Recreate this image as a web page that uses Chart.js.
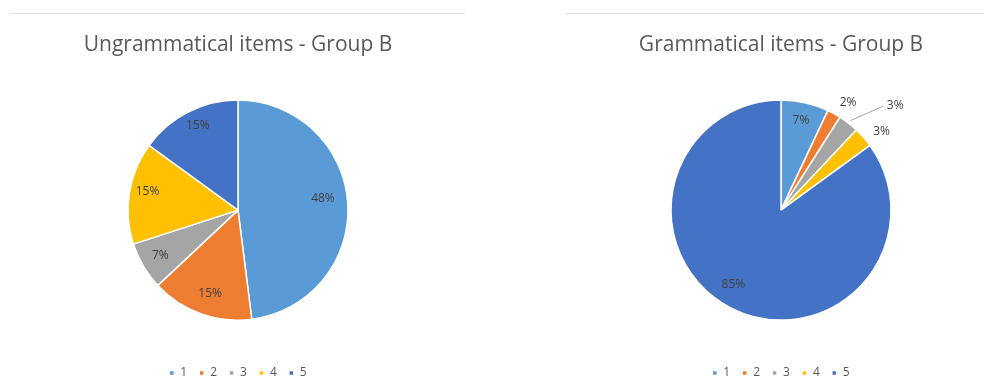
<!DOCTYPE html>
<html>
<head>
<meta charset="utf-8">
<script src="https://cdn.jsdelivr.net/npm/chart.js@4.4.1/dist/chart.umd.min.js"></script>
<style>
  html, body { margin: 0; padding: 0; background: #fff; overflow: hidden; width: 984px; height: 389px; }
  .box { position: absolute; top: 13px; height: 390px; border-top: 1px solid #e3e3e3; }
  #leftBox { left: 11px; width: 454px; }
  #rightBox { left: 566px; width: 430px; }
</style>
</head>
<body>
<div class="box" id="leftBox"><canvas id="ungramChart"></canvas></div>
<div class="box" id="rightBox"><canvas id="gramChart"></canvas></div>
<script>
// ratings 1..5
const categories = ['1', '2', '3', '4', '5'];
const ungrammaticalB = [48, 15, 7, 15, 15];
const grammaticalB = [7, 2, 3, 3, 85];
const sliceColors = ['#5B9BD5', '#ED7D31', '#A5A5A5', '#FFC000', '#4472C4'];

// draws the percentage labels on/around the slices
const pctLabels = {
    id: 'pctLabels',
    afterDatasetsDraw(chart, args, opts) {
        const ctx = chart.ctx;
        const ds = chart.data.datasets[0];
        const total = ds.data.reduce((a, b) => a + b, 0);
        ctx.save();
        ctx.font = '12px "Open Sans"';
        ctx.fillStyle = '#404040';
        ctx.textAlign = 'center';
        ctx.textBaseline = 'middle';
        chart.getDatasetMeta(0).data.forEach((arc, i) => {
            const p = arc.getProps(['x', 'y', 'startAngle', 'endAngle', 'outerRadius'], true);
            const m0 = (p.startAngle + p.endAngle) / 2;
            const mid = m0 + opts.turn[i];
            const f = opts.dist[i];
            const lx = p.x + Math.cos(mid) * p.outerRadius * f;
            const ly = p.y + Math.sin(mid) * p.outerRadius * f;
            if (opts.leader.includes(i)) {
                ctx.strokeStyle = '#a6a6a6';
                ctx.lineWidth = 1;
                ctx.beginPath();
                ctx.moveTo(p.x + Math.cos(m0) * p.outerRadius * 1.03, p.y + Math.sin(m0) * p.outerRadius * 1.03);
                ctx.lineTo(lx - 12, ly + 1);
                ctx.stroke();
            }
            ctx.fillText(Math.round(ds.data[i] / total * 100) + '%', lx, ly);
        });
        ctx.restore();
    }
};

function makePie(canvasId, title, values, dist, turn, leader) {
    return new Chart(document.getElementById(canvasId), {
        type: 'pie',
        data: {
            labels: categories,
            datasets: [{
                data: values,
                backgroundColor: sliceColors,
                borderColor: '#ffffff',
                borderWidth: 1.5
            }]
        },
        options: {
            responsive: true,
            maintainAspectRatio: false,
            animation: false,
            radius: 110,
            layout: { padding: { bottom: 15 } },
            plugins: {
                title: {
                    display: true,
                    text: title,
                    color: '#595959',
                    font: { family: 'Open Sans', size: 21, weight: 'normal' },
                    padding: { top: 18, bottom: 8 }
                },
                legend: {
                    position: 'bottom',
                    labels: {
                        color: '#595959',
                        font: { family: 'Open Sans', size: 12 },
                        boxWidth: 5,
                        boxHeight: 5,
                        padding: 12
                    }
                },
                tooltip: { enabled: false },
                pctLabels: { dist: dist, turn: turn, leader: leader }
            }
        },
        plugins: [pctLabels]
    });
}

makePie('ungramChart', 'Ungrammatical items - Group B', ungrammaticalB,
    [0.78, 0.8, 0.82, 0.84, 0.85], [-0.077, -0.024, 0, 0.05, 0.026], []);
makePie('gramChart', 'Grammatical items - Group B', grammaticalB,
    [0.83, 1.15, 1.41, 1.16, 0.8], [0, 0.056, 0.168, 0.06, 0.1], [2]);
</script>
</body>
</html>
